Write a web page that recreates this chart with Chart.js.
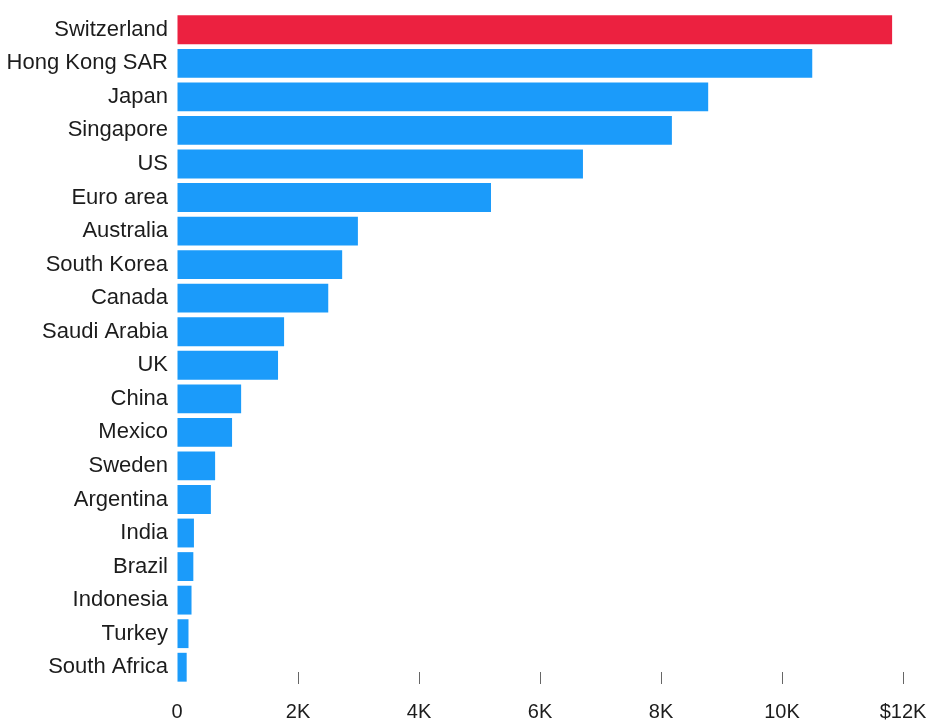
<!DOCTYPE html>
<html>
<head>
<meta charset="utf-8">
<script src="https://cdn.jsdelivr.net/npm/chart.js@4"></script>
<style>
  html, body { margin: 0; padding: 0; background: #fff; }
  #wrap { width: 930px; height: 720px; }
</style>
</head>
<body>
<div id="wrap"><canvas id="chart"></canvas></div>
<script>
  const COUNTRIES = ["Switzerland","Hong Kong SAR","Japan","Singapore","US","Euro area","Australia",
    "South Korea","Canada","Saudi Arabia","UK","China","Mexico","Sweden","Argentina","India",
    "Brazil","Indonesia","Turkey","South Africa"];
  const VALUES = [11820, 10500, 8780, 8180, 6710, 5190, 2990, 2730, 2500, 1770, 1670, 1060,
    910, 630, 560, 280, 270, 240, 190, 160];
  const HIGHLIGHT = "Switzerland";
  const X_TICKS = [0, 2000, 4000, 6000, 8000, 10000, 12000];

  const RED = "#ec2140";
  const BLUE = "#1b9bfa";
  const FAMILY = "'Liberation Sans', Arial, sans-serif";

  new Chart(document.getElementById("chart"), {
    type: "bar",
    data: {
      labels: COUNTRIES,
      datasets: [{
        data: VALUES,
        backgroundColor: COUNTRIES.map(c => c === HIGHLIGHT ? RED : BLUE),
        borderWidth: 0,
        categoryPercentage: 1,
        barPercentage: 0.86
      }]
    },
    options: {
      indexAxis: "y",
      responsive: true,
      maintainAspectRatio: false,
      animation: false,
      layout: { padding: { top: 13, right: 27, left: 0, bottom: 0 } },
      plugins: { legend: { display: false }, tooltip: { enabled: false } },
      scales: {
        y: {
          grid: { display: false, drawTicks: false },
          border: { display: false },
          ticks: { color: "#1c1c1c", font: { family: FAMILY, size: 22 }, padding: 9 },
          afterFit: s => { s.width = 177; s.paddingTop = 0; s.paddingBottom = 0; }
        },
        x: {
          min: 0,
          max: 12000,
          afterBuildTicks: s => { s.ticks = X_TICKS.map(v => ({ value: v })); },
          grid: {
            drawOnChartArea: false,
            tickLength: -12,
            tickColor: ctx => ctx.tick && ctx.tick.value === 0 ? "rgba(0,0,0,0)" : "#666"
          },
          border: { display: false },
          ticks: {
            color: "#1c1c1c",
            font: { family: FAMILY, size: 20 },
            padding: 28,
            maxRotation: 0,
            callback: v => v === 0 ? "0" : (v === 12000 ? "$" : "") + (v / 1000) + "K"
          },
          afterFit: s => { s.height = 36; s.paddingLeft = 0; s.paddingRight = 0; }
        }
      }
    }
  });
</script>
</body>
</html>
